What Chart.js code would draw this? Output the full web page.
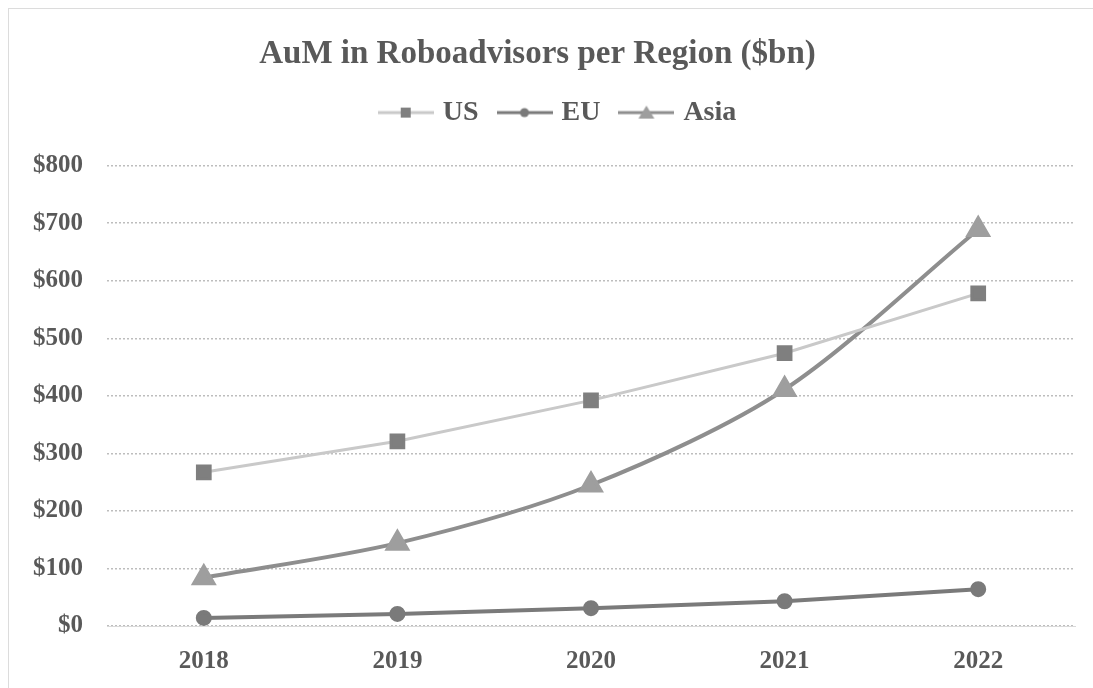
<!DOCTYPE html>
<html>
<head>
<meta charset="utf-8">
<script src="https://cdn.jsdelivr.net/npm/chart.js@4/dist/chart.umd.min.js"></script>
<style>
  html, body { margin: 0; padding: 0; background: #fff; }
  #wrap { position: absolute; left: 0; top: 0; width: 1093px; height: 688px; }
  #frame { position: absolute; left: 8px; top: 8px; width: 1100px; height: 700px; border: 1px solid #dcdcdc; }
</style>
</head>
<body>
<div id="frame"></div>
<div id="wrap"><canvas id="myChart" width="1093" height="688"></canvas></div>
<script>
const years = ["2018", "2019", "2020", "2021", "2022"];
const usValues = [267, 321, 392, 474, 578];
const euValues = [14, 21, 31, 43, 64];
const asiaValues = [84, 144, 245, 411, 689];

const textColor = "#595959";
const serif = "'Liberation Serif', 'DejaVu Serif', serif";

// little legend icons: line with the marker in the middle
function legendIcon(lineColor, markerColor, shape) {
  const c = document.createElement("canvas");
  c.width = 56;
  c.height = 18;
  const ctx = c.getContext("2d");
  ctx.strokeStyle = lineColor;
  ctx.lineWidth = 3;
  ctx.beginPath();
  ctx.moveTo(0, 9);
  ctx.lineTo(56, 9);
  ctx.stroke();
  ctx.fillStyle = markerColor;
  if (shape === "rect") {
    ctx.fillRect(23, 4, 10, 10);
  } else if (shape === "circle") {
    ctx.beginPath();
    ctx.arc(28, 9, 4.5, 0, Math.PI * 2);
    ctx.fill();
  } else {
    ctx.beginPath();
    ctx.moveTo(28, 2);
    ctx.lineTo(36, 15);
    ctx.lineTo(20, 15);
    ctx.closePath();
    ctx.fill();
  }
  return c;
}

// extra room under the legend, and nudge it a bit right like the original
const legendSpace = {
  id: "legendSpace",
  afterInit(chart) {
    const legend = chart.legend;
    const fit = legend.fit;
    legend.fit = function () {
      fit.call(this);
      this.height += 29;
    };
    const draw = legend.draw;
    legend.draw = function () {
      const c = this.ctx;
      c.save();
      c.translate(22, 0);
      draw.apply(this, arguments);
      c.restore();
    };
  }
};

const ctx = document.getElementById("myChart").getContext("2d");
new Chart(ctx, {
  type: "line",
  data: {
    labels: years,
    datasets: [
      {
        label: "US",
        data: usValues,
        borderColor: "#c9c9c9",
        borderWidth: 3,
        backgroundColor: "#7f7f7f",
        pointBackgroundColor: "#7f7f7f",
        pointBorderColor: "#7f7f7f",
        pointStyle: "rect",
        pointRadius: 9,
        tension: 0,
        legendIcon: legendIcon("#c9c9c9", "#7f7f7f", "rect"),
      },
      {
        label: "EU",
        data: euValues,
        borderColor: "#7a7a7a",
        borderWidth: 4,
        backgroundColor: "#7a7a7a",
        pointBackgroundColor: "#7a7a7a",
        pointBorderColor: "#7a7a7a",
        pointStyle: "circle",
        pointRadius: 6,
        tension: 0,
        legendIcon: legendIcon("#7a7a7a", "#7a7a7a", "circle"),
      },
      {
        label: "Asia",
        data: asiaValues,
        borderColor: "#8e8e8e",
        borderWidth: 4,
        backgroundColor: "#9e9e9e",
        pointBackgroundColor: "#9e9e9e",
        pointBorderColor: "#9e9e9e",
        pointStyle: "triangle",
        pointRadius: 11,
        tension: 0.3,
        legendIcon: legendIcon("#8e8e8e", "#9e9e9e", "triangle"),
      },
    ],
  },
  options: {
    responsive: false,
    animation: false,
    layout: { padding: { top: 0, left: 0, right: 18, bottom: 0 } },
    plugins: {
      title: {
        display: true,
        text: "AuM in Roboadvisors per Region ($bn)",
        color: textColor,
        font: { family: serif, size: 33, weight: "bold" },
        padding: { top: 35, bottom: 1 },
      },
      legend: {
        display: true,
        labels: {
          color: textColor,
          font: { family: serif, size: 28, weight: "bold" },
          usePointStyle: true,
          pointStyleWidth: 46,
          padding: 23,
          generateLabels(chart) {
            return chart.data.datasets.map((ds, i) => ({
              text: ds.label,
              pointStyle: ds.legendIcon,
              fontColor: textColor,
              datasetIndex: i,
              hidden: false,
              lineWidth: 0,
            }));
          },
        },
      },
      tooltip: { enabled: false },
    },
    scales: {
      x: {
        offset: true,
        grid: { display: false },
        border: { display: true, color: "#d9d9d9", width: 1 },
        ticks: {
          color: textColor,
          font: { family: serif, size: 25, weight: "bold" },
          padding: 13,
        },
        afterFit(scale) {
          scale.height = 62;
        },
      },
      y: {
        min: 0,
        max: 800,
        border: { display: false, dash: [2, 2] },
        grid: { color: "#bdbdbd", lineWidth: 1.5, drawTicks: false },
        ticks: {
          stepSize: 100,
          color: textColor,
          font: { family: serif, size: 25, weight: "bold" },
          padding: 24,
          callback: (v) => "$" + v,
        },
        afterFit(scale) {
          scale.width = 107;
        },
      },
    },
  },
  plugins: [legendSpace],
});
</script>
</body>
</html>
